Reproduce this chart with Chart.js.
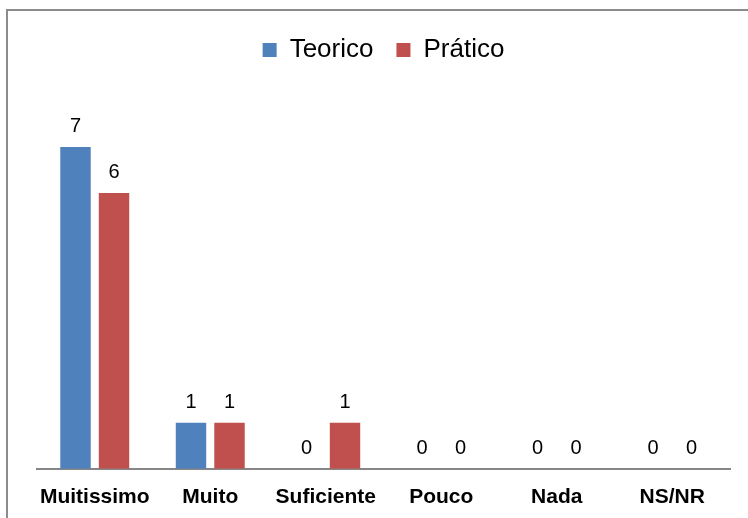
<!DOCTYPE html>
<html>
<head>
<meta charset="utf-8">
<script src="https://cdn.jsdelivr.net/npm/chart.js@4/dist/chart.umd.min.js"></script>
<style>
  html, body { margin: 0; padding: 0; background: #fff; overflow: hidden; }
  #marco { position: absolute; left: 6px; top: 9px; width: 800px; height: 600px; border: 2px solid #8c8c8c; }
  #caja { position: absolute; left: 0; top: 0; width: 748px; height: 518px; }
</style>
</head>
<body>
<div id="marco"></div>
<div id="caja"><canvas id="grafico" width="748" height="518"></canvas></div>
<script>
// Datos del gráfico
const categorias = ["Muitissimo", "Muito", "Suficiente", "Pouco", "Nada", "NS/NR"];
const teorico = [7, 1, 0, 0, 0, 0];
const pratico = [6, 1, 1, 0, 0, 0];

// Plugin para escribir el valor encima de cada barra
const etiquetasValor = {
  id: "etiquetasValor",
  afterDatasetsDraw(chart) {
    const ctx = chart.ctx;
    ctx.save();
    ctx.font = "20px 'Liberation Sans', Arial, sans-serif";
    ctx.fillStyle = "#000";
    ctx.textAlign = "center";
    ctx.textBaseline = "alphabetic";
    chart.data.datasets.forEach((ds, i) => {
      chart.getDatasetMeta(i).data.forEach((bar, j) => {
        ctx.fillText(String(ds.data[j]), bar.x, bar.y - 15);
      });
    });
    ctx.restore();
  }
};

// Espacio extra debajo de la leyenda
const espacioLeyenda = {
  id: "espacioLeyenda",
  beforeInit(chart) {
    const fitOriginal = chart.legend.fit;
    chart.legend.fit = function () {
      fitOriginal.bind(chart.legend)();
      this.height += 28;
    };
  }
};

// eslint-disable-next-line no-undef
new Chart(document.getElementById("grafico"), {
  type: "bar",
  data: {
    labels: categorias,
    datasets: [
      { label: "Teorico", data: teorico, backgroundColor: "#4F81BD" },
      { label: "Prático", data: pratico, backgroundColor: "#C0504D" }
    ]
  },
  options: {
    responsive: false,
    animation: false,
    datasets: {
      bar: { categoryPercentage: 0.667, barPercentage: 0.79 }
    },
    layout: {
      padding: { left: 37, right: 18, top: 14, bottom: -8 }
    },
    plugins: {
      tooltip: { enabled: false },
      legend: {
        position: "top",
        labels: {
          boxWidth: 14,
          boxHeight: 14,
          padding: 23,
          color: "#000",
          font: { family: "'Liberation Sans', Arial, sans-serif", size: 26 }
        }
      }
    },
    scales: {
      x: {
        grid: { display: false, drawTicks: false },
        border: { display: true, color: "#868686", width: 2 },
        ticks: {
          padding: 16,
          color: "#000",
          autoSkip: false,
          maxRotation: 0,
          font: { family: "'Liberation Sans', Arial, sans-serif", size: 21, weight: "bold" }
        }
      },
      y: {
        display: false,
        min: 0,
        max: 8
      }
    }
  },
  plugins: [etiquetasValor, espacioLeyenda]
});
</script>
</body>
</html>
